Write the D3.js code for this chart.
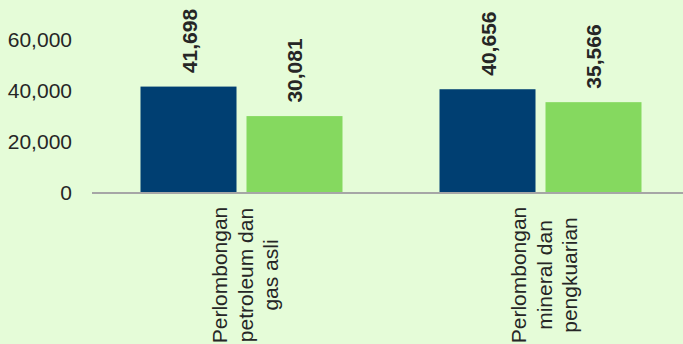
<!DOCTYPE html>
<html>
<head>
<meta charset="utf-8">
<script src="https://cdn.jsdelivr.net/npm/d3@7"></script>
<style>
  html, body { margin: 0; padding: 0; background: #e5fcd8; }
  svg { display: block; }
</style>
</head>
<body>
<svg id="chart"></svg>
<script>
const categories = [
    ["Perlombongan", "petroleum dan", "gas asli"],
    ["Perlombongan", "mineral dan", "pengkuarian"]
];
const seriesA = [41698, 40656];
const seriesB = [30081, 35566];
const yTicks = [0, 20000, 40000, 60000];

const width = 683;
const height = 344;
const margin = ({top: 14.7, right: -7, bottom: 151.5, left: 92});

const svg = d3.select("#chart")
    .attr("width", width)
    .attr("height", height)
    .style("font-family", "'Liberation Sans', Arial, sans-serif");

svg.append("rect")
    .attr("width", width)
    .attr("height", height)
    .attr("fill", "#e5fcd8");

const x0 = d3.scaleBand()
    .domain(d3.range(categories.length))
    .range([margin.left, width - margin.right]);

const x1 = d3.scaleBand()
    .domain(["a", "b"])
    .range([0, 202])
    .paddingInner(0.0943);

const y = d3.scaleLinear()
    .domain([0, 70000])
    .range([height - margin.bottom, margin.top]);

const fmt = d3.format(",");

// y axis labels, no line
const yAxis = svg.append("g")
    .attr("transform", `translate(${margin.left},0)`)
    .call(d3.axisLeft(y).tickValues(yTicks).tickFormat(fmt).tickSize(0).tickPadding(20));
yAxis.select(".domain").remove();
yAxis.selectAll("text")
    .attr("fill", "#262626")
    .style("font-size", "21px")
    .style("font-family", "'Liberation Sans', Arial, sans-serif");

const rows = categories.map((c, i) => ({i: i, a: seriesA[i], b: seriesB[i]}));
const colors = {a: "#003f72", b: "#85d95f"};

const group = svg.append("g").selectAll("g")
    .data(rows)
    .join("g")
    .attr("transform", d => `translate(${x0(d.i) + (x0.bandwidth() - 202) / 2},0)`);

const bars = group.selectAll("g")
    .data(d => ["a", "b"].map(k => ({key: k, value: d[k]})))
    .join("g");

bars.append("rect")
    .attr("x", d => x1(d.key))
    .attr("y", d => y(d.value))
    .attr("width", x1.bandwidth())
    .attr("height", d => y(0) - y(d.value))
    .attr("fill", d => colors[d.key]);

bars.append("text")
    .attr("transform", d => `translate(${x1(d.key) + x1.bandwidth() / 2 + 8},${y(d.value) - 13.5}) rotate(-90)`)
    .attr("text-anchor", "start")
    .attr("fill", "#262626")
    .style("font-size", "21px")
    .style("font-weight", "bold")
    .text(d => fmt(d.value));

// x axis line
svg.append("line")
    .attr("x1", margin.left)
    .attr("x2", width)
    .attr("y1", y(0) + 0.5)
    .attr("y2", y(0) + 0.5)
    .attr("stroke", "#a6a6a6")
    .attr("stroke-width", 2);

// category labels, rotated
const catText = svg.append("g").selectAll("text")
    .data(categories)
    .join("text")
    .attr("transform", (d, i) => `translate(${x0(i) + x0.bandwidth() / 2},275) rotate(-90)`)
    .attr("text-anchor", "middle")
    .attr("fill", "#262626")
    .style("font-size", "21px");

catText.selectAll("tspan")
    .data(d => d)
    .join("tspan")
    .attr("x", 0)
    .attr("y", (d, i) => -14.5 + i * 25.5)
    .text(d => d);
</script>
</body>
</html>
